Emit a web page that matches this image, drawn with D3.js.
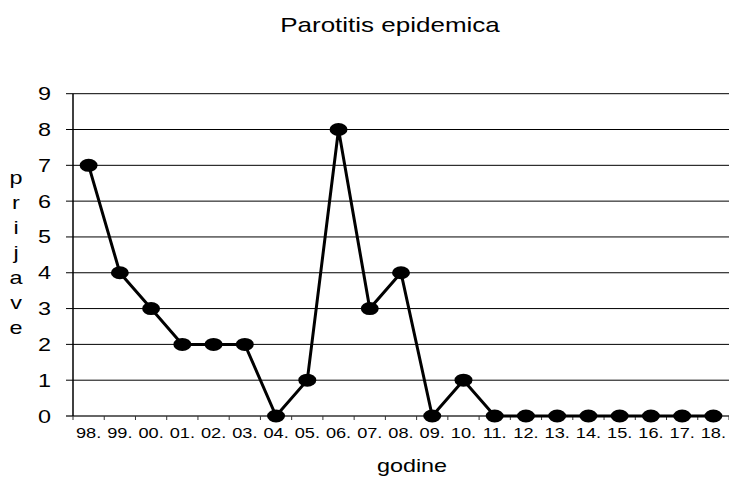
<!DOCTYPE html>
<html>
<head>
<meta charset="utf-8">
<script src="https://cdn.jsdelivr.net/npm/d3@7/dist/d3.min.js"></script>
<style>
  body { margin: 0; background: #fff; }
  text { font-family: "Liberation Sans", Arial, sans-serif; fill: #000; }
</style>
</head>
<body>
<svg id="chart" width="729" height="480"></svg>
<script>
// data
var years = ["98.", "99.", "00.", "01.", "02.", "03.", "04.", "05.", "06.", "07.",
             "08.", "09.", "10.", "11.", "12.", "13.", "14.", "15.", "16.", "17.", "18."]
var cases = [7, 4, 3, 2, 2, 2, 0, 1, 8, 3, 4, 0, 1, 0, 0, 0, 0, 0, 0, 0, 0]
var yTicks = [0, 1, 2, 3, 4, 5, 6, 7, 8, 9]
var title = "Parotitis epidemica"
var xTitle = "godine"
var yTitle = "prijave"

var svg = d3.select("#chart")
// note: "top" is taken by window.top, so plotTop
var plotLeft = 73, plotRight = 729, plotTop = 93.7, plotBottom = 416
var sx = 1.3 // the original text looks stretched sideways

var x = d3.scaleBand().domain(years).range([plotLeft, plotRight])
var y = d3.scaleLinear().domain([0, 9]).range([plotBottom, plotTop])

// horizontal grid lines (they stick out left as ticks)
svg.append("g").selectAll("line")
  .data(yTicks.filter(d => d > 0))
  .enter().append("line")
  .attr("x1", plotLeft - 7).attr("x2", plotRight)
  .attr("y1", d => y(d)).attr("y2", d => y(d))
  .attr("stroke", "#000").attr("stroke-width", 1)

// y labels
svg.append("g").selectAll("text")
  .data(yTicks)
  .enter().append("text")
  .attr("transform", d => "translate(51," + (y(d) + 6.5) + ") scale(" + sx + ",1)")
  .attr("text-anchor", "end")
  .style("font-size", "18px")
  .text(d => d)

// x axis
var gx = svg.append("g").attr("transform", "translate(0," + plotBottom + ")")
gx.append("line").attr("x1", plotLeft - 7).attr("x2", plotRight)
  .attr("stroke", "#333").attr("stroke-width", 1.5)
// ticks between categories
gx.append("g").selectAll("line")
  .data(years.concat(["end"]))
  .enter().append("line")
  .attr("x1", (d, i) => plotLeft + i * x.step()).attr("x2", (d, i) => plotLeft + i * x.step())
  .attr("y1", 0).attr("y2", 4)
  .attr("stroke", "#333")

svg.append("g").selectAll("text")
  .data(years)
  .enter().append("text")
  .attr("transform", d => "translate(" + (x(d) + x.bandwidth() / 2) + ",438) scale(" + sx + ",1)")
  .attr("text-anchor", "middle")
  .style("font-size", "14px")
  .text(d => d)

// y axis line
svg.append("line")
  .attr("x1", plotLeft).attr("x2", plotLeft).attr("y1", plotTop).attr("y2", plotBottom)
  .attr("stroke", "#000").attr("stroke-width", 1.5)

// the series
var line = d3.line()
  .x((d, i) => x(years[i]) + x.bandwidth() / 2)
  .y(d => y(d))

svg.append("path")
  .datum(cases)
  .attr("d", line)
  .attr("fill", "none")
  .attr("stroke", "#000")
  .attr("stroke-width", 3)

svg.append("g").selectAll("ellipse")
  .data(cases)
  .enter().append("ellipse")
  .attr("cx", (d, i) => x(years[i]) + x.bandwidth() / 2)
  .attr("cy", d => y(d))
  .attr("rx", 9).attr("ry", 6.5)
  .attr("fill", "#000")

// titles
svg.append("text")
  .attr("transform", "translate(390,32) scale(" + sx + ",1)")
  .attr("text-anchor", "middle")
  .style("font-size", "20px")
  .text(title)

svg.append("text")
  .attr("transform", "translate(412,472) scale(" + sx + ",1)")
  .attr("text-anchor", "middle")
  .style("font-size", "18px")
  .text(xTitle)

// vertical title, one letter per line
svg.append("g").selectAll("text")
  .data(yTitle.split(""))
  .enter().append("text")
  .attr("transform", (d, i) => "translate(16," + (184 + i * 25) + ") scale(" + sx + ",1)")
  .attr("text-anchor", "middle")
  .style("font-size", "18px")
  .text(d => d)
</script>
</body>
</html>
